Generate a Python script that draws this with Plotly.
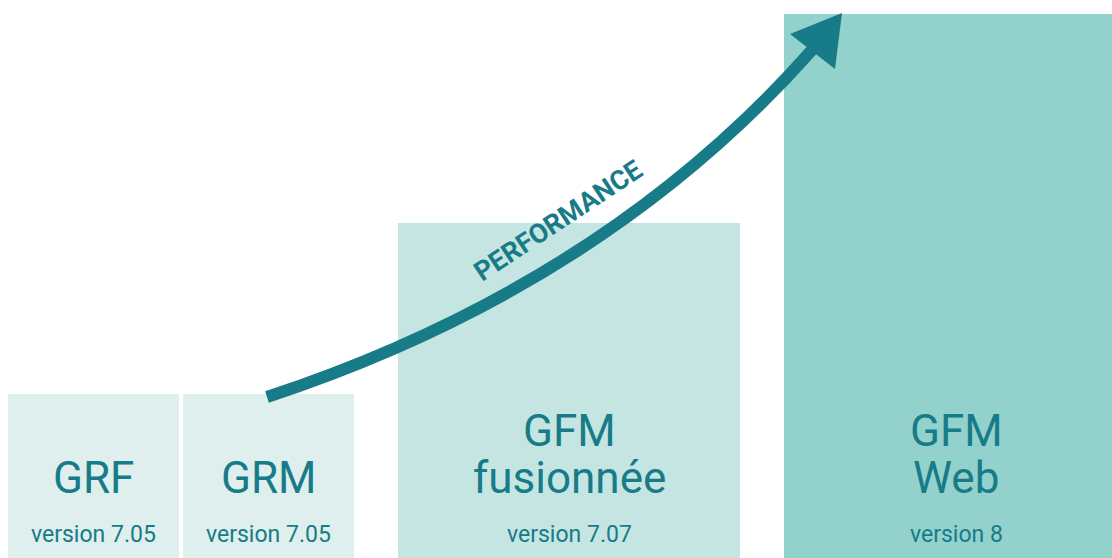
import plotly.graph_objects as go

# ---- data ----
names_top = ["GRF", "GRM", "GFM", "GFM"]
names_bottom = ["", "", "fusionnée", "Web"]
versions = ["version 7.05", "version 7.05", "version 7.07", "version 8"]
performance = [164, 164, 335, 544]          # bar heights (performance level)

# ---- layout constants (pixel-like axis units) ----
W, H = 1112, 558
centers = [93.5, 268.5, 569, 956]
widths = [171, 171, 342, 344]
colors = ["#deefed", "#deefed", "#c5e5e2", "#93d1cd"]
TXT = "#177b88"
FONT = "Roboto"

fig = go.Figure()
fig.add_trace(go.Bar(x=centers, y=performance, width=widths,
                     marker=dict(color=colors, line=dict(width=0)),
                     hoverinfo="skip", showlegend=False))

def py(v):
    return H - v

ann = []
for i in range(4):
    if names_bottom[i]:
        ann.append(dict(x=centers[i], y=py(431), text=names_top[i], showarrow=False,
                        font=dict(family=FONT, size=44, color=TXT), yanchor="middle"))
        ann.append(dict(x=centers[i], y=py(478), text=names_bottom[i], showarrow=False,
                        font=dict(family=FONT, size=44, color=TXT), yanchor="middle"))
    else:
        ann.append(dict(x=centers[i], y=py(478), text=names_top[i], showarrow=False,
                        font=dict(family=FONT, size=44, color=TXT), yanchor="middle"))
    ann.append(dict(x=centers[i], y=py(534), text=versions[i], showarrow=False,
                    font=dict(family=FONT, size=23, color=TXT), yanchor="middle"))

ann.append(dict(x=558, y=py(221), text="<b>PERFORMANCE</b>", showarrow=False,
                textangle=-33.5, font=dict(family=FONT, size=27, color=TXT)))

# arrow shaft (cubic bezier) and head
p0, p1, p2, p3 = (267, 397), (467, 331), (658, 224), (812, 50)
path = "M %g,%g C %g,%g %g,%g %g,%g" % (p0[0], py(p0[1]), p1[0], py(p1[1]),
                                      p2[0], py(p2[1]), p3[0], py(p3[1]))
shapes = [dict(type="path", path=path, line=dict(color=TXT, width=12), xref="x", yref="y"),
          dict(type="path", path="M 842,%g L 790,%g L 835,%g Z" % (py(13), py(34), py(69)),
               fillcolor=TXT, line=dict(color=TXT, width=0), xref="x", yref="y")]

fig.update_layout(width=W, height=H, margin=dict(l=0, r=0, t=0, b=0),
                  paper_bgcolor="white", plot_bgcolor="white",
                  xaxis=dict(range=[0, W], visible=False, fixedrange=True),
                  yaxis=dict(range=[0, H], visible=False, fixedrange=True),
                  annotations=ann, shapes=shapes)
fig.write_html("out.html", config={"displayModeBar": False},
               post_script="document.body.style.margin='0';document.body.style.overflow='hidden';")
